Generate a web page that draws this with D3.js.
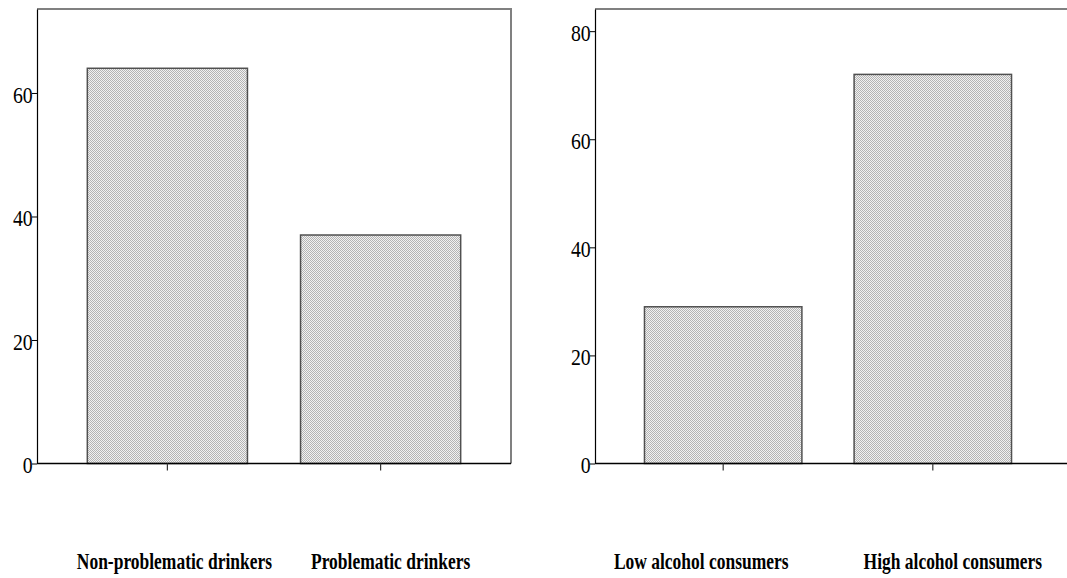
<!DOCTYPE html>
<html><head><meta charset="utf-8">
<script src="https://cdn.jsdelivr.net/npm/d3@7"></script>
<style>html,body{margin:0;padding:0;background:#fff;}svg{display:block;}</style>
</head><body>
<svg id="chart" width="1067" height="578"></svg>
<script>
// ---- data ----
const leftCategories = ["Non-problematic drinkers", "Problematic drinkers"];
const leftValues = [64, 37];
const leftTicks = [0, 20, 40, 60];

const rightCategories = ["Low alcohol consumers", "High alcohol consumers"];
const rightValues = [29, 72];
const rightTicks = [0, 20, 40, 60, 80];

// ---- layout ----
const svg = d3.select("#chart");
const defs = svg.append("defs");
const pat = defs.append("pattern").attr("id", "dots").attr("patternUnits", "userSpaceOnUse")
  .attr("width", 2).attr("height", 2);
pat.append("rect").attr("width", 2).attr("height", 2).attr("fill", "#f2f2f2");
pat.append("rect").attr("x", 0).attr("y", 0).attr("width", 1).attr("height", 1).attr("fill", "#b4b4b4");
pat.append("rect").attr("x", 1).attr("y", 1).attr("width", 1).attr("height", 1).attr("fill", "#b4b4b4");

function panel(cfg) {
  const {cats, vals, ticks, x0, x1, frameRight, top, base, yMax, labelDx} = cfg;
  const g = svg.append("g");
  const x = d3.scaleBand().domain(cats).range([x0, x1]).paddingInner(0.249).paddingOuter(0.236);
  const y = d3.scaleLinear().domain([0, yMax]).range([base, top]);

  // frame top/right
  g.append("path")
    .attr("d", `M${x0},${top}H${frameRight}V${base}`)
    .attr("fill", "none").attr("stroke", "#808080").attr("stroke-width", 2);

  // bars
  g.selectAll("rect.bar").data(vals).join("rect").attr("class", "bar")
    .attr("x", (d, i) => x(cats[i]))
    .attr("width", x.bandwidth())
    .attr("y", d => y(d))
    .attr("height", d => y(0) - y(d))
    .attr("fill", "url(#dots)")
    .attr("stroke", "#505050").attr("stroke-width", 1.5);

  // baseline
  g.append("line").attr("x1", x0).attr("x2", frameRight).attr("y1", base).attr("y2", base)
    .attr("stroke", "#000").attr("stroke-width", 1.5);

  // x ticks
  const xa = g.append("g").attr("transform", `translate(0,${base})`)
    .call(d3.axisBottom(x).tickSizeOuter(0).tickSizeInner(7).tickFormat(""));
  xa.select(".domain").remove();
  xa.selectAll("line").attr("stroke", "#333").attr("stroke-width", 1.2);

  // y axis
  const ya = g.append("g").attr("transform", `translate(${x0},0)`)
    .call(d3.axisLeft(y).tickValues(ticks).tickSizeInner(5).tickSizeOuter(0).tickPadding(0).tickFormat(d3.format("d")));
  ya.select(".domain").attr("stroke", "#000").attr("stroke-width", 1.2);
  ya.selectAll("line").attr("stroke", "#000");
  ya.selectAll("text")
    .attr("font-family", "'Liberation Serif','Times New Roman',serif")
    .attr("font-size", 23).attr("fill", "#000")
    .attr("dy", "0.4em")
    .attr("transform", "scale(0.86,1)");

  // category labels
  g.selectAll("text.cat").data(cats).join("text").attr("class", "cat")
    .attr("transform", (d, i) => `translate(${x(d) + x.bandwidth() / 2 + labelDx[i]},569) scale(0.76,1)`)
    .attr("text-anchor", "middle")
    .attr("font-family", "'Liberation Serif','Times New Roman',serif")
    .attr("font-weight", "bold").attr("font-size", 23).attr("fill", "#000")
    .text(d => d);
}

panel({cats: leftCategories, vals: leftValues, ticks: leftTicks,
  x0: 37, x1: 511, frameRight: 511, top: 9, base: 463.5, yMax: 73.6, labelDx: [7, 10]});
panel({cats: rightCategories, vals: rightValues, ticks: rightTicks,
  x0: 595, x1: 1061, frameRight: 1075, top: 9, base: 463.5, yMax: 84.1, labelDx: [-22, 20]});
</script>
</body></html>
